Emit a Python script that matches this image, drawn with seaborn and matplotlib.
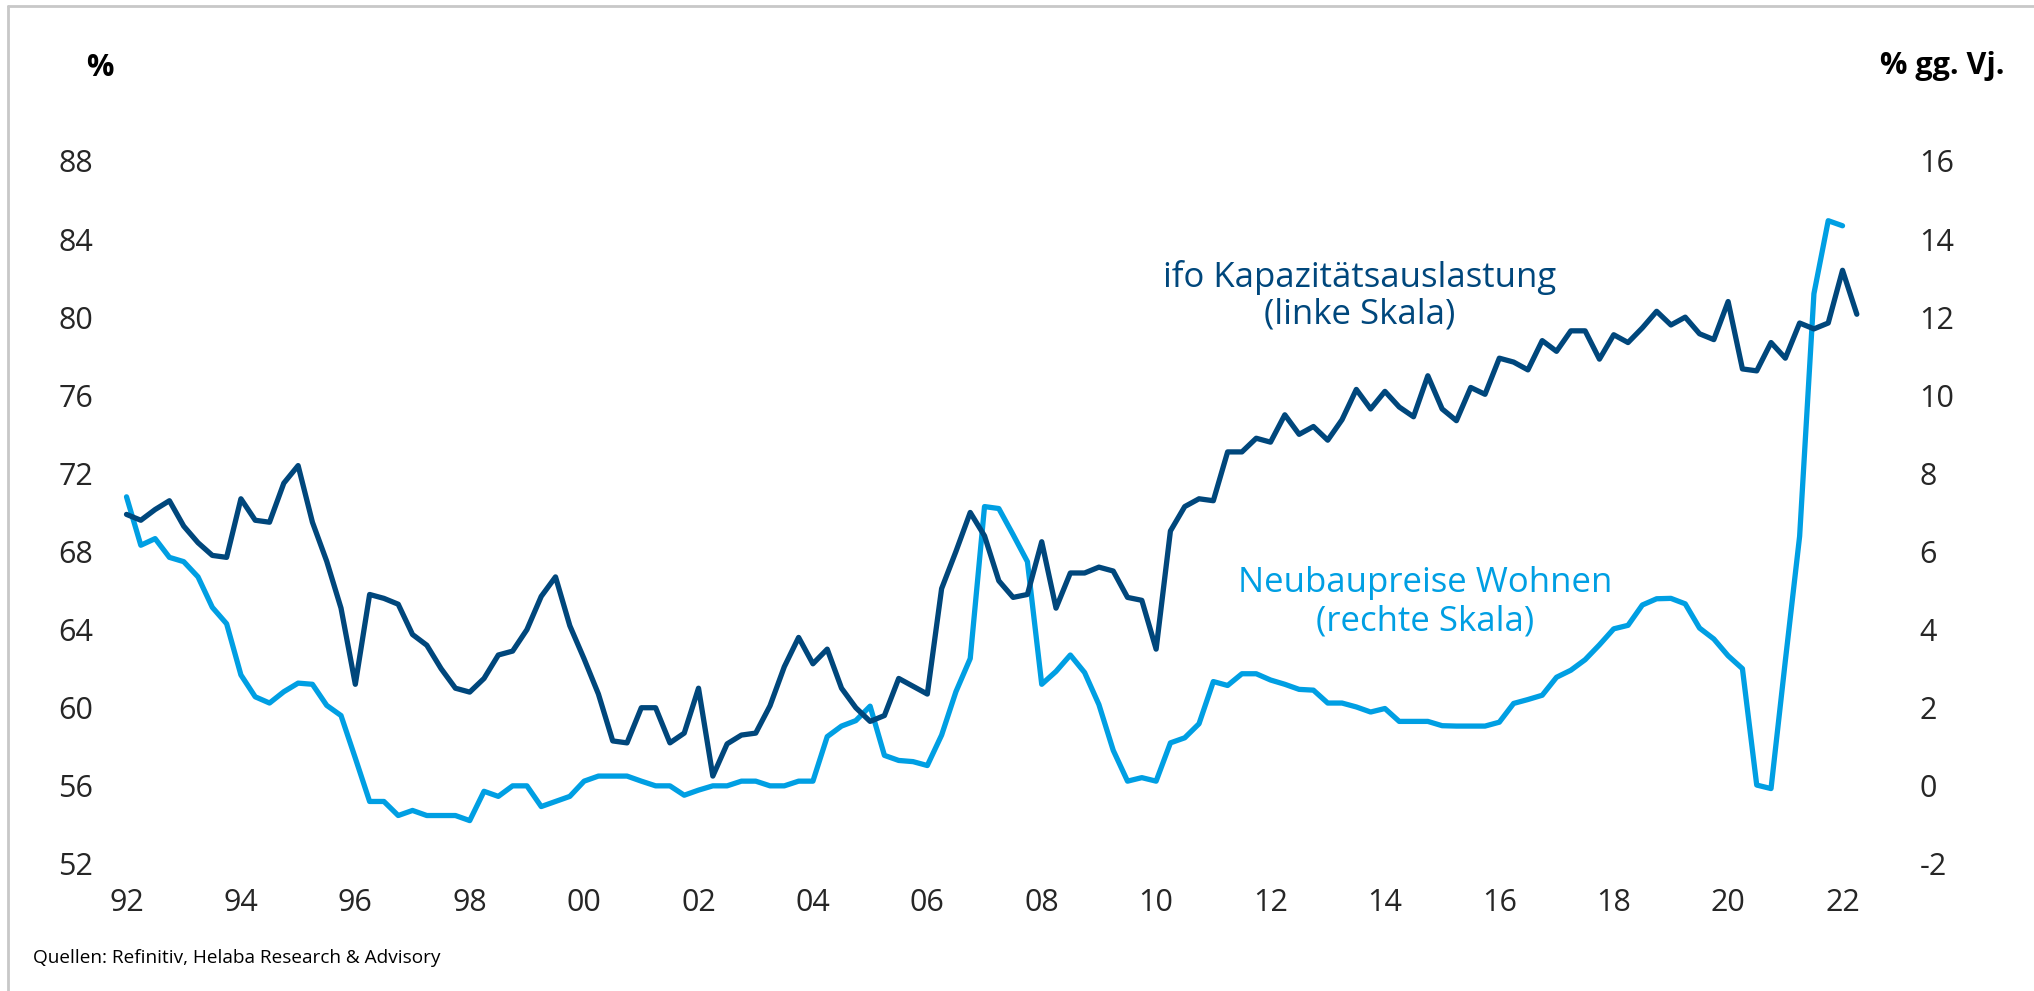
import numpy as np
import pandas as pd
import matplotlib as mpl
mpl.use("Agg")
import matplotlib.pyplot as plt
import seaborn as sns
from matplotlib.lines import Line2D

# quarterly data, 1992 Q1 onwards
ifo_kapazitaet = [
    69.9, 69.6, 70.15, 70.6, 69.3, 68.45, 67.8, 67.7, 70.7, 69.6,
    69.5, 71.5, 72.4, 69.5, 67.5, 65.1, 61.2, 65.8, 65.6, 65.3,
    63.75, 63.2, 62.0, 61.0, 60.8, 61.5, 62.7, 62.9, 64.0, 65.7,
    66.7, 64.2, 62.5, 60.7, 58.3, 58.2, 60.0, 60.0, 58.2, 58.7,
    61.0, 56.5, 58.15, 58.6, 58.7, 60.1, 62.1, 63.6, 62.25, 63.0,
    61.0, 60.0, 59.3, 59.6, 61.5, 61.1, 60.7, 66.1, 68.0, 70.0,
    68.8, 66.5, 65.65, 65.8, 68.5, 65.1, 66.9, 66.9, 67.2, 67.0,
    65.65, 65.5, 63.0, 69.05, 70.3, 70.7, 70.6, 73.1, 73.1, 73.8,
    73.6, 75.0, 74.0, 74.4, 73.7, 74.75, 76.3, 75.3, 76.2, 75.4,
    74.9, 77.0, 75.3, 74.7, 76.4, 76.05, 77.9, 77.7, 77.3, 78.8,
    78.25, 79.3, 79.3, 77.85, 79.1, 78.7, 79.45, 80.3, 79.6, 80.0,
    79.15, 78.85, 80.8, 77.35, 77.25, 78.7, 77.9, 79.7, 79.4, 79.7,
    82.4, 80.15,
]

neubaupreise = [
    7.4, 6.16, 6.33, 5.85, 5.74, 5.35, 4.57, 4.15, 2.84, 2.28,
    2.12, 2.41, 2.63, 2.6, 2.06, 1.8, 0.71, -0.4, -0.4, -0.76,
    -0.63, -0.76, -0.76, -0.76, -0.89, -0.14, -0.27, 0.0, 0.0, -0.53,
    -0.4, -0.27, 0.12, 0.25, 0.25, 0.25, 0.12, 0.0, 0.0, -0.24,
    -0.11, 0.0, 0.0, 0.12, 0.12, 0.0, 0.0, 0.12, 0.12, 1.26,
    1.53, 1.67, 2.04, 0.78, 0.65, 0.62, 0.52, 1.3, 2.41, 3.26,
    7.15, 7.1, 6.43, 5.74, 2.6, 2.93, 3.35, 2.9, 2.08, 0.91,
    0.12, 0.21, 0.12, 1.1, 1.23, 1.59, 2.67, 2.57, 2.87, 2.87,
    2.71, 2.6, 2.47, 2.45, 2.12, 2.12, 2.02, 1.89, 1.98, 1.65,
    1.65, 1.65, 1.54, 1.53, 1.53, 1.53, 1.63, 2.11, 2.21, 2.32,
    2.78, 2.96, 3.23, 3.61, 4.02, 4.11, 4.63, 4.79, 4.8, 4.66,
    4.04, 3.76, 3.33, 3.0, 0.02, -0.07, 3.2, 6.39, 12.6, 14.47,
    14.34,
]

x_ticks = [1992, 1994, 1996, 1998, 2000, 2002, 2004, 2006, 2008, 2010,
           2012, 2014, 2016, 2018, 2020, 2022]
x_labels = ["92", "94", "96", "98", "00", "02", "04", "06", "08", "10",
            "12", "14", "16", "18", "20", "22"]
left_ticks = [52, 56, 60, 64, 68, 72, 76, 80, 84, 88]
right_ticks = [-2, 0, 2, 4, 6, 8, 10, 12, 14, 16]

DARK = "#00477C"
LIGHT = "#009FE3"

sns.set_theme(style="white")
plt.rcParams["font.family"] = ["Open Sans", "DejaVu Sans"]
plt.rcParams["axes.unicode_minus"] = False

df_ifo = pd.DataFrame({"jahr": 1992 + np.arange(len(ifo_kapazitaet)) / 4,
                       "wert": ifo_kapazitaet})
df_neu = pd.DataFrame({"jahr": 1992 + np.arange(len(neubaupreise)) / 4,
                       "wert": neubaupreise})

fig = plt.figure(figsize=(20.34, 9.91), dpi=100)
ax = fig.add_axes([0.0622, 0.1282, 0.8521, 0.7094])
ax2 = ax.twinx()

sns.lineplot(data=df_neu, x="jahr", y="wert", ax=ax2, color=LIGHT, lw=3.8)
sns.lineplot(data=df_ifo, x="jahr", y="wert", ax=ax, color=DARK, lw=3.8)
ax.set_zorder(ax2.get_zorder() + 1)
ax.patch.set_visible(False)
for l in ax.lines + ax2.lines:
    l.set_clip_on(False)
    l.set_solid_joinstyle("round")
    l.set_solid_capstyle("round")

ax.set_xlim(1992, 2022.3)
ax.set_ylim(52, 88)
ax2.set_ylim(-2, 16)
ax.set_xticks(x_ticks)
ax.set_xticklabels(x_labels)
ax.set_yticks(left_ticks)
ax2.set_yticks(right_ticks)
ax.set_xlabel("")
ax.set_ylabel("")
ax2.set_ylabel("")

ax.tick_params(axis="x", length=0, pad=17, labelsize=22)
ax.tick_params(axis="y", length=0, pad=24, labelsize=22)
ax2.tick_params(axis="y", length=0, pad=43, labelsize=22)
for a in (ax, ax2):
    for s in a.spines.values():
        s.set_visible(False)
    a.grid(False)

ax.text(2013.55, 81.1, "ifo Kapazitätsauslastung\n(linke Skala)",
        ha="center", va="center", fontsize=25, color=DARK, linespacing=1.1)
ax.text(2014.7, 65.4, "Neubaupreise Wohnen\n(rechte Skala)",
        ha="center", va="center", fontsize=25, color=LIGHT, linespacing=1.15)

fig.text(100 / 2034, 1 - 68 / 991, "%", ha="center", va="center",
         fontsize=22, fontweight="bold", color="black")
fig.text(1880 / 2034, 1 - 66 / 991, "% gg. Vj.", ha="left", va="center",
         fontsize=22, fontweight="bold", color="black")
fig.text(33 / 2034, 1 - 958 / 991, "Quellen: Refinitiv, Helaba Research & Advisory",
         ha="left", va="center", fontsize=13.7, color="black")

# grey frame on top and left
fig.add_artist(Line2D([8 / 2034, 1], [1 - 6 / 991, 1 - 6 / 991],
                      transform=fig.transFigure, color="#c8c8c8", lw=2))
fig.add_artist(Line2D([8 / 2034, 8 / 2034], [0, 1 - 6 / 991],
                      transform=fig.transFigure, color="#c8c8c8", lw=2))

fig.savefig("out.png", dpi=100, facecolor="white")
